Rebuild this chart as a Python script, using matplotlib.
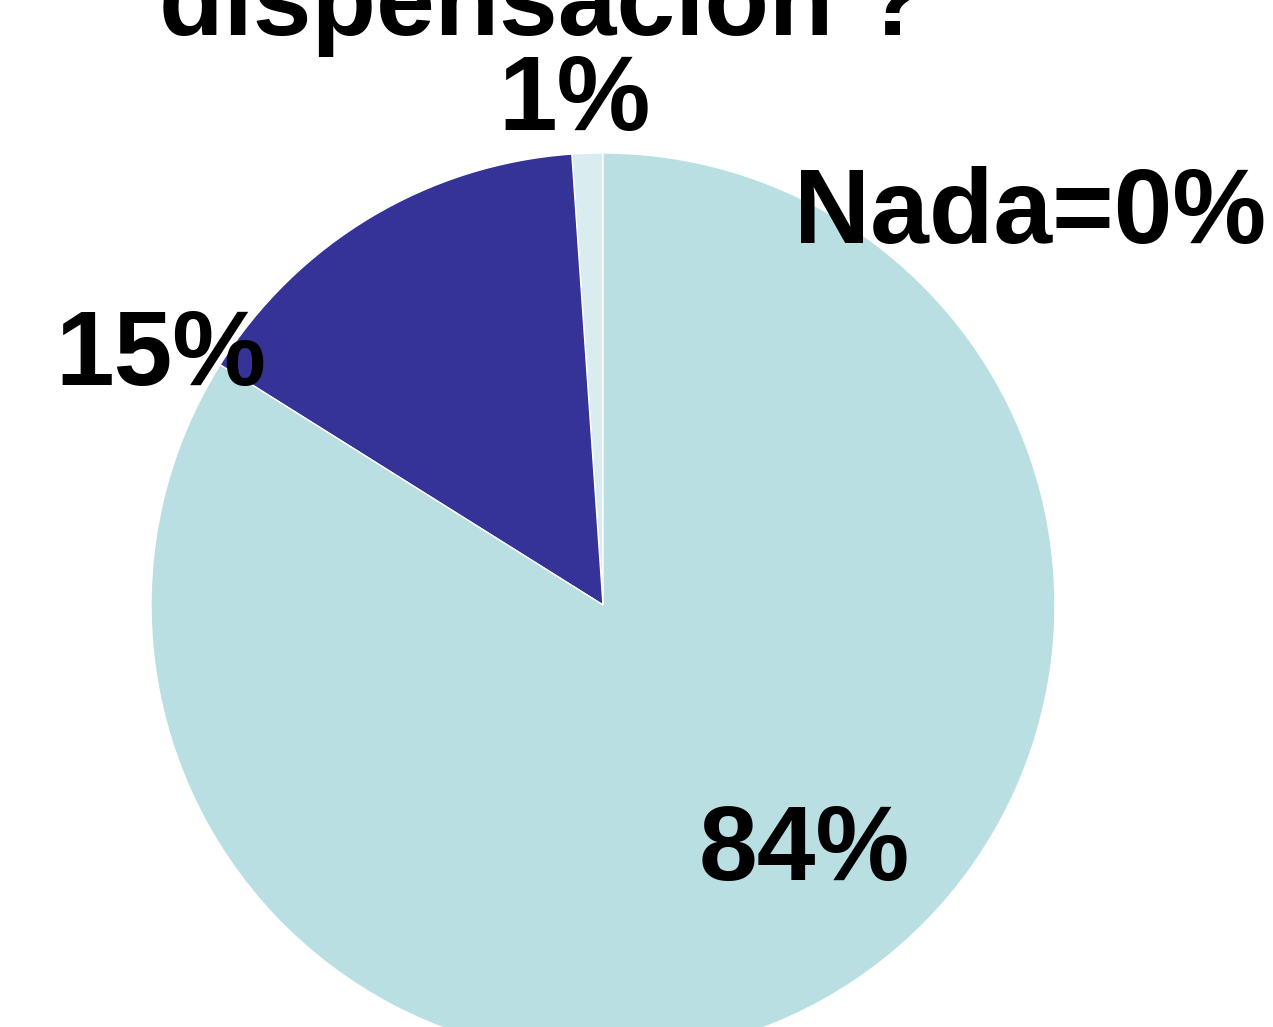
import matplotlib
matplotlib.use("Agg")
import matplotlib.pyplot as plt

categories = ["Poco", "Algo", "Mucho", "Nada"]
values = [1.1, 15, 84, 0]
labels = ["1%", "15%", "84%", "Nada=0%"]
colors = ["#D9EDF0", "#353398", "#BADFE3", "#FFFFFF"]
title = "dispensación ?"

W, H = 1273, 1027
fig = plt.figure(figsize=(W / 100, H / 100), dpi=100)
ax = fig.add_axes([0, 0, 1, 1])
ax.set_xlim(0, W)
ax.set_ylim(0, H)
ax.set_aspect("equal")
ax.axis("off")

vals = [v for v in values if v > 0]
cols = [c for v, c in zip(values, colors) if v > 0]
ax.pie(vals, colors=cols, startangle=90, counterclock=True,
       center=(603, H - 605), radius=452,
       wedgeprops=dict(edgecolor="white", linewidth=1))
ax.set_xlim(0, W)
ax.set_ylim(0, H)

font = dict(family=["Liberation Sans", "DejaVu Sans"], fontweight="bold",
            fontsize=76, color="black", va="baseline")
label_pos = {"1%": (575, 130, "center"), "15%": (161, 385, "center"),
             "84%": (804, 880, "center"), "Nada=0%": (1266, 243, "right")}
for lab in labels:
    x, y, ha = label_pos[lab]
    ax.text(x, H - y, lab, ha=ha, **font)

ax.text(543, H - 35, title, ha="center", **font)

fig.savefig("out.png", dpi=100)
